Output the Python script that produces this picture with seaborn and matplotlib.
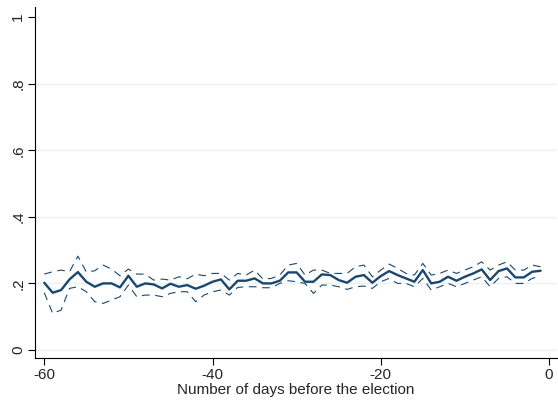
import numpy as np
import pandas as pd
import matplotlib
matplotlib.use("Agg")
import matplotlib.pyplot as plt
import seaborn as sns

days = list(range(-60, 0))
estimate = [0.202, 0.172, 0.180, 0.212, 0.234, 0.205, 0.190, 0.200, 0.200, 0.188,
            0.223, 0.190, 0.200, 0.197, 0.185, 0.199, 0.190, 0.195, 0.184, 0.193,
            0.205, 0.212, 0.182, 0.208, 0.208, 0.215, 0.200, 0.200, 0.208, 0.233,
            0.233, 0.205, 0.205, 0.227, 0.225, 0.210, 0.202, 0.220, 0.225, 0.202,
            0.222, 0.237, 0.225, 0.215, 0.205, 0.240, 0.200, 0.205, 0.220, 0.208,
            0.220, 0.230, 0.242, 0.210, 0.237, 0.245, 0.218, 0.218, 0.235, 0.238]
upper = [0.228, 0.235, 0.240, 0.235, 0.282, 0.234, 0.238, 0.255, 0.243, 0.223,
         0.243, 0.228, 0.228, 0.210, 0.213, 0.210, 0.220, 0.214, 0.228, 0.223,
         0.230, 0.230, 0.210, 0.230, 0.225, 0.240, 0.213, 0.215, 0.225, 0.255,
         0.260, 0.225, 0.240, 0.240, 0.230, 0.230, 0.230, 0.250, 0.255, 0.220,
         0.240, 0.258, 0.245, 0.230, 0.225, 0.260, 0.225, 0.230, 0.240, 0.230,
         0.240, 0.250, 0.265, 0.240, 0.255, 0.265, 0.240, 0.240, 0.255, 0.250]
lower = [0.172, 0.110, 0.120, 0.185, 0.190, 0.175, 0.145, 0.140, 0.150, 0.160,
         0.195, 0.160, 0.165, 0.165, 0.160, 0.170, 0.175, 0.175, 0.145, 0.165,
         0.175, 0.180, 0.165, 0.188, 0.190, 0.190, 0.187, 0.187, 0.200, 0.208,
         0.205, 0.200, 0.170, 0.195, 0.195, 0.190, 0.182, 0.190, 0.192, 0.185,
         0.205, 0.215, 0.200, 0.200, 0.190, 0.215, 0.180, 0.190, 0.200, 0.190,
         0.200, 0.210, 0.220, 0.190, 0.215, 0.220, 0.200, 0.200, 0.215, 0.222]

yticks = [0, 0.2, 0.4, 0.6, 0.8, 1]
ytick_labels = ["0", ".2", ".4", ".6", ".8", "1"]
xticks = [-60, -40, -20, 0]
xtick_labels = ["-60", "-40", "-20", "0"]
xlabel = "Number of days before the election"

df = pd.DataFrame({"day": days, "est": estimate, "hi": upper, "lo": lower})

sns.set_style("white")
plt.rcParams["font.family"] = ["Liberation Sans", "DejaVu Sans"]

W, H = 558, 403
fig = plt.figure(figsize=(W / 100, H / 100), dpi=100)
ax = fig.add_axes([35 / W, 1 - 358 / H, (557 - 35) / W, (358 - 7) / H])

navy = "#1a476f"
sns.lineplot(data=df, x="day", y="hi", ax=ax, color=navy, lw=0.8,
             linestyle=(0, (7, 5)), zorder=3)
sns.lineplot(data=df, x="day", y="lo", ax=ax, color=navy, lw=0.8,
             linestyle=(0, (7, 5)), zorder=3)
sns.lineplot(data=df, x="day", y="est", ax=ax, color=navy, lw=1.7, zorder=4)

ax.set_xlim(-61.1, 0.95)
ax.set_ylim(-0.024, 1.03)
for yv in yticks[:-1]:
    ax.axhline(yv, color="#eaf2f3", lw=1.0, zorder=1)

ax.set_yticks(yticks)
ax.set_yticklabels(ytick_labels, rotation=90, va="center", fontsize=11)
ax.set_xticks(xticks)
ax.set_xticklabels(xtick_labels, fontsize=11)
ax.tick_params(axis="both", direction="out", length=5, width=0.8, color="black",
               left=True, bottom=True, pad=2)
ax.set_xlabel(xlabel, fontsize=11, labelpad=1)
ax.set_ylabel("")

for s in ["top", "right"]:
    ax.spines[s].set_visible(False)
for s in ["left", "bottom"]:
    ax.spines[s].set_color("black")
    ax.spines[s].set_linewidth(0.8)

fig.savefig("out.png", dpi=100, facecolor="white")
